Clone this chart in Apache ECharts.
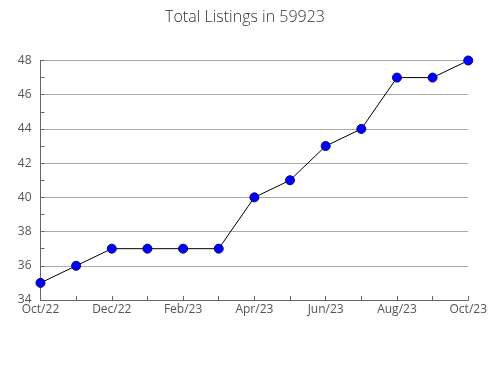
<!DOCTYPE html>
<html><head><meta charset="utf-8">
<script src="https://cdn.jsdelivr.net/npm/echarts@6/dist/echarts.min.js"></script>
<style>html,body{margin:0;padding:0;background:#fff}#c{width:490px;height:380px}</style>
</head><body><div id="c"></div>
<script>
const categories = ['Oct/22','Nov/22','Dec/22','Jan/23','Feb/23','Mar/23','Apr/23','May/23','Jun/23','Jul/23','Aug/23','Sep/23','Oct/23'];
const listings = [35, 36, 37, 37, 37, 37, 40, 41, 43, 44, 47, 47, 48];
const yTicks = {min: 34, max: 48, interval: 2};

const chart = echarts.init(document.getElementById('c'));
chart.setOption({
  animation: false,
  title: {text: 'Total Listings in 59923', left: 'center', top: 4,
    textStyle: {fontFamily: 'Open Sans', fontWeight: 300, fontSize: 16, color: '#333'}},
  grid: {left: 40.5, right: 19.5, top: 60.5, bottom: 80, containLabel: false},
  xAxis: {
    type: 'category', data: categories, boundaryGap: false,
    axisLine: {lineStyle: {color: '#666', width: 1}},
    axisTick: {show: true, inside: true, length: 4, interval: 0, lineStyle: {color: '#666'}},
    axisLabel: {interval: 1, margin: 4, fontFamily: 'Open Sans', fontSize: 12, color: '#555'},
    splitLine: {show: false}
  },
  yAxis: {
    type: 'value', min: yTicks.min, max: yTicks.max, interval: yTicks.interval,
    axisLine: {show: true, lineStyle: {color: '#666', width: 1}},
    axisTick: {show: true, inside: true, length: 4, lineStyle: {color: '#666'}},
    minorTick: {show: true, splitNumber: 2, length: 4, lineStyle: {color: '#666'}},
    axisLabel: {margin: 9, fontFamily: 'Open Sans', fontSize: 12, color: '#555'},
    splitLine: {show: true, lineStyle: {color: '#aaa', width: 1}}
  },
  series: [{
    type: 'line', data: listings,
    lineStyle: {color: '#000', width: 1},
    symbol: 'circle', symbolSize: 9,
    itemStyle: {color: '#0000ff', borderColor: '#00008b', borderWidth: 1}
  }]
});
</script></body></html>
